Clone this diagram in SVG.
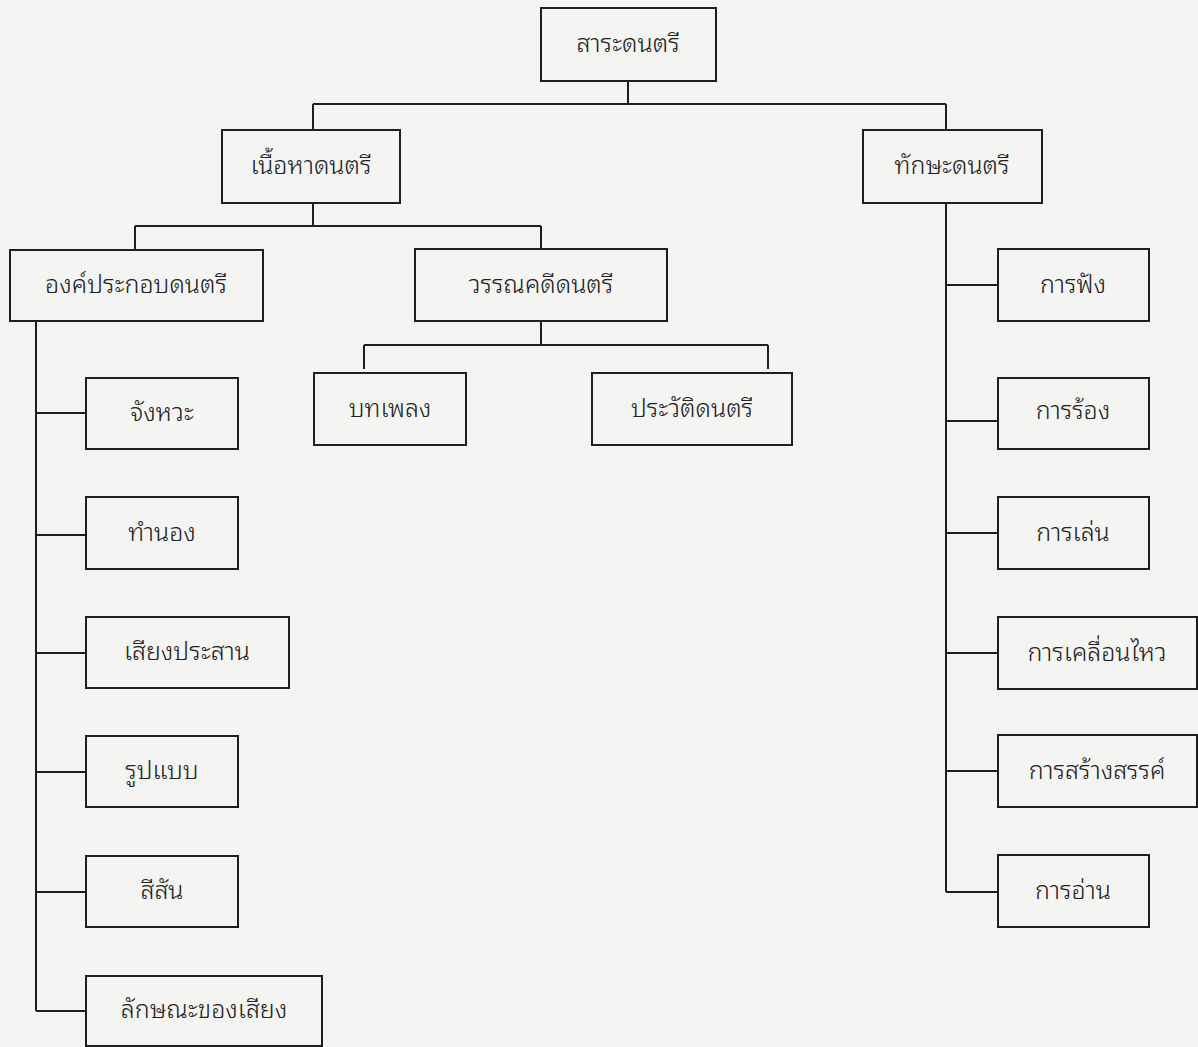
<svg xmlns="http://www.w3.org/2000/svg" width="1198" height="1047" viewBox="0 0 1198 1047">
<style>
.b{fill:none;stroke:#1e1e1e;stroke-width:2}
.c{fill:none;stroke:#1e1e1e;stroke-width:2}
.t{font-family:"Noto Sans Thai Looped","Noto Sans Thai","Noto Sans","DejaVu Sans",sans-serif;font-size:25px;font-weight:300;fill:#222;text-anchor:middle;dominant-baseline:central}
</style>
<rect x="0" y="0" width="1198" height="1047" fill="#f4f4f2"/>
<g id="connectors">
<path class="c" d="M628 81V104M313 104H946M313 104V130M946 104V130"/>
<path class="c" d="M313 203V226M135 226H541M135 226V250M541 226V249"/>
<path class="c" d="M541 321V345M364 345H768M364 345V369M768 345V369"/>
<path class="c" d="M36 321V1011M36 413H86M36 535H86M36 653H86M36 772H86M36 892H86M36 1011H86"/>
<path class="c" d="M946 203V892M946 285H998M946 421H998M946 533H998M946 653H998M946 771H998M946 892H998"/>
</g>
<g id="n-sara"><rect class="b" x="541" y="8" width="175" height="73"/><text class="t" x="628" y="41">สาระดนตรี</text></g>
<g id="n-nueha"><rect class="b" x="222" y="130" width="178" height="73"/><text class="t" x="311" y="163">เนื้อหาดนตรี</text></g>
<g id="n-taksa"><rect class="b" x="863" y="130" width="179" height="73"/><text class="t" x="952" y="163">ทักษะดนตรี</text></g>
<g id="n-ongprakob"><rect class="b" x="10" y="250" width="253" height="71"/><text class="t" x="136" y="282">องค์ประกอบดนตรี</text></g>
<g id="n-wannakadee"><rect class="b" x="415" y="249" width="252" height="72"/><text class="t" x="541" y="282">วรรณคดีดนตรี</text></g>
<g id="n-botpleng"><rect class="b" x="314" y="373" width="152" height="72"/><text class="t" x="390" y="406">บทเพลง</text></g>
<g id="n-prawat"><rect class="b" x="592" y="373" width="200" height="72"/><text class="t" x="692" y="406">ประวัติดนตรี</text></g>
<g id="n-jangwa"><rect class="b" x="86" y="378" width="152" height="71"/><text class="t" x="162" y="410">จังหวะ</text></g>
<g id="n-tamnong"><rect class="b" x="86" y="497" width="152" height="72"/><text class="t" x="162" y="530">ทำนอง</text></g>
<g id="n-siangprasan"><rect class="b" x="86" y="617" width="203" height="71"/><text class="t" x="187" y="649">เสียงประสาน</text></g>
<g id="n-roopbaeb"><rect class="b" x="86" y="736" width="152" height="71"/><text class="t" x="162" y="768">รูปแบบ</text></g>
<g id="n-seesan"><rect class="b" x="86" y="856" width="152" height="71"/><text class="t" x="162" y="888">สีสัน</text></g>
<g id="n-laksana"><rect class="b" x="86" y="976" width="236" height="70"/><text class="t" x="204" y="1007">ลักษณะของเสียง</text></g>
<g id="n-fang"><rect class="b" x="998" y="249" width="151" height="72"/><text class="t" x="1073" y="282">การฟัง</text></g>
<g id="n-rong"><rect class="b" x="998" y="378" width="151" height="71"/><text class="t" x="1073" y="408">การร้อง</text></g>
<g id="n-len"><rect class="b" x="998" y="497" width="151" height="72"/><text class="t" x="1073" y="530">การเล่น</text></g>
<g id="n-kluenwai"><rect class="b" x="998" y="617" width="199" height="72"/><text class="t" x="1097" y="650">การเคลื่อนไหว</text></g>
<g id="n-sangsan"><rect class="b" x="998" y="735" width="199" height="72"/><text class="t" x="1097" y="768">การสร้างสรรค์</text></g>
<g id="n-an"><rect class="b" x="998" y="855" width="151" height="72"/><text class="t" x="1073" y="888">การอ่าน</text></g>
</svg>
